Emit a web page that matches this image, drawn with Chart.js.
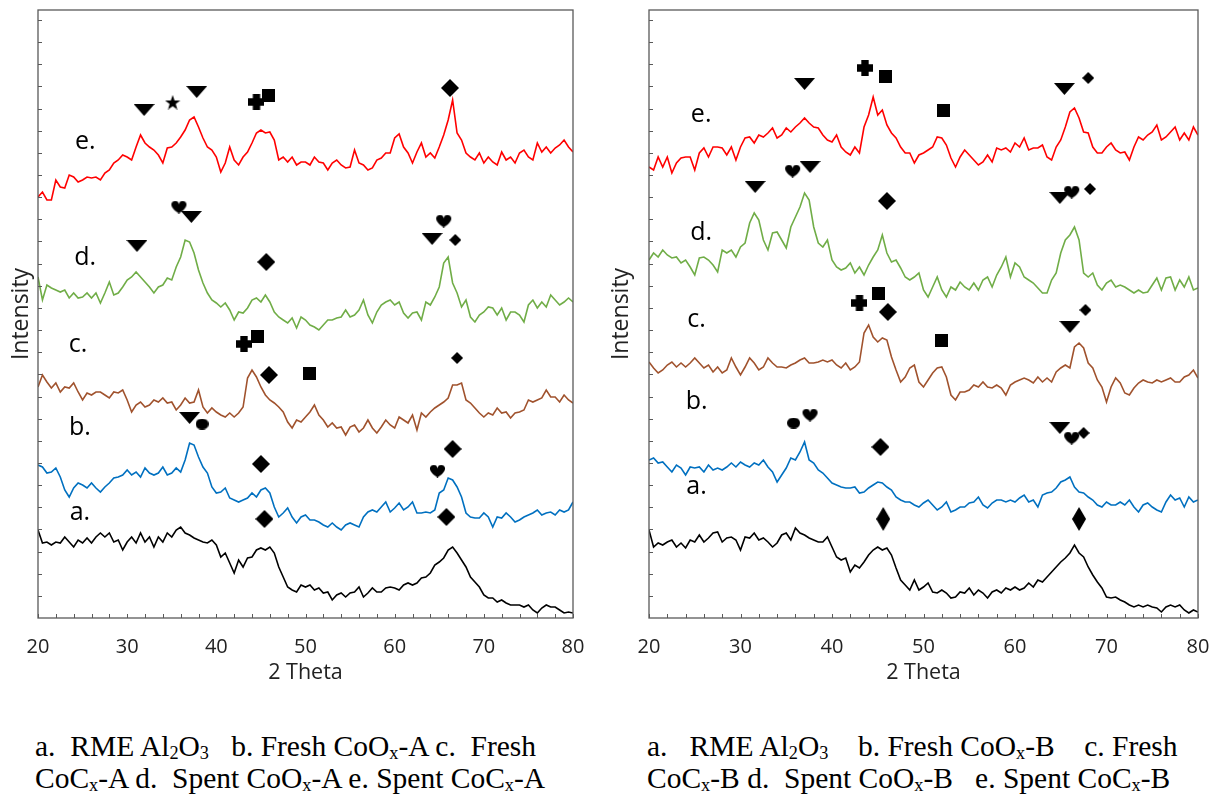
<!DOCTYPE html>
<html>
<head>
<meta charset="utf-8">
<script src="https://cdn.jsdelivr.net/npm/chart.js@4.4.1/dist/chart.umd.min.js"></script>
<style>
  body { margin: 0; background: #fff; width: 1212px; height: 794px; overflow: hidden; position: relative; }
  canvas { position: absolute; top: 0; }
  #c1 { left: 0; }
  #c2 { left: 600px; }
  .cap { position: absolute; font-family: "Liberation Serif", "Times New Roman", serif; font-size: 29.5px;
         line-height: 32px; white-space: pre; color: #000; }
  .cap sub { font-size: 0.62em; vertical-align: -0.18em; line-height: 0; }
</style>
</head>
<body>
<canvas id="c1" width="600" height="700"></canvas>
<canvas id="c2" width="612" height="700"></canvas>
<div class="cap" style="left:35px; top:730px;">a.  RME Al<sub>2</sub>O<sub>3</sub>   b. Fresh CoO<sub>x</sub>-A c.  Fresh
CoC<sub>x</sub>-A d.  Spent CoO<sub>x</sub>-A e. Spent CoC<sub>x</sub>-A</div>
<div class="cap" style="left:647px; top:730px;">a.   RME Al<sub>2</sub>O<sub>3</sub>    b. Fresh CoO<sub>x</sub>-B    c. Fresh
CoC<sub>x</sub>-B d.  Spent CoO<sub>x</sub>-B   e. Spent CoC<sub>x</sub>-B</div>
<script>
// 2 theta grid, 20..80 every 0.5 deg
const twoTheta = [];
for (let i = 0; i <= 120; i++) twoTheta.push(20 + i * 0.5);

// intensities (arb. units, stacked offsets as in the figure) -- left panel, series A
const leftE = [421,426,418,418,438,431,430,443,441,436, 438,441,440,441,438,445,448,455,458,463,
  461,458,471,483,475,471,468,463,455,470, 471,475,481,488,498,501,491,480,471,468,
  461,446,455,471,458,453,461,466,475,485, 488,485,486,478,458,461,456,461,453,456,
  456,453,461,456,455,448,455,458,453,450, 451,468,455,453,448,450,458,460,465,465,
  480,484,471,465,455,466,475,461,465,460, 471,483,498,518,485,478,465,461,458,465,
  455,461,456,453,466,458,461,455,465,468, 461,458,475,466,471,465,470,473,478,471, 466];
const leftD = [341,318,333,330,328,326,328,320,325,320, 321,325,320,325,315,325,336,323,325,331,
  338,341,346,341,336,331,325,331,333,340, 338,351,361,378,376,365,348,335,325,318,
  315,311,315,308,298,306,305,310,318,320, 316,323,316,306,301,298,295,300,290,301,
  298,293,291,288,293,298,298,300,301,308, 301,303,308,318,303,295,306,313,316,318,
  313,316,305,300,305,306,298,316,313,321, 331,355,361,335,325,311,318,301,296,303,
  306,311,310,303,310,298,306,306,303,296, 313,318,310,316,311,323,318,313,316,320, 316];
const leftC = [231,243,236,230,235,226,231,230,235,226, 218,225,223,226,226,223,220,226,225,228,
  218,206,213,216,211,213,218,216,220,215, 216,208,213,220,215,216,228,211,205,210,
  206,203,201,205,201,205,211,240,248,241, 231,223,218,215,211,206,196,190,198,196,
  201,206,213,203,198,191,195,190,191,183, 191,193,186,190,198,190,185,191,198,193,
  190,201,198,195,203,188,205,201,206,210, 213,216,220,233,233,235,218,215,210,205,
  201,205,203,210,205,206,200,205,206,208, 218,216,218,220,228,221,221,216,223,218, 215];
const leftB = [153,151,145,146,150,141,128,121,130,135, 133,130,135,130,126,131,135,140,141,143,
  148,143,146,141,150,145,143,145,151,143, 145,150,146,158,175,173,161,151,145,131,
  125,126,130,120,118,116,118,120,125,121, 128,130,125,111,101,105,110,101,95,101,
  103,98,98,96,93,91,95,91,88,93, 95,93,91,101,106,108,106,111,116,106,
  110,115,108,111,116,105,105,106,105,108, 125,128,140,138,131,121,105,101,100,100,
  105,101,91,101,100,105,101,96,98,101, 103,105,108,103,105,106,103,108,106,108, 116];
const leftA = [88,75,76,73,76,75,81,76,71,78, 75,80,75,81,85,81,85,76,78,68,
  76,81,75,85,76,81,71,81,76,85, 81,88,91,85,83,80,78,76,75,78,
  73,61,65,55,45,58,51,60,61,68, 70,68,71,65,51,41,31,28,26,33,
  31,33,28,30,25,26,18,23,25,21, 25,26,31,21,25,30,26,26,30,31,
  30,28,33,35,33,35,40,41,45,53, 56,60,68,71,65,58,51,41,36,31,
  23,20,20,16,18,15,13,13,13,11, 13,8,5,10,13,11,11,8,5,6, 5];

// right panel, series B
const rightE = [451,448,461,451,461,445,455,460,461,461, 448,465,470,461,471,471,470,463,471,458,
  471,480,481,475,483,481,485,490,480,483, 490,486,491,495,500,495,491,490,483,478,
  476,483,471,466,463,471,465,491,503,521, 503,508,493,485,480,471,465,465,455,463,
  465,468,471,481,480,473,460,451,461,468, 463,458,453,456,463,456,470,468,470,466,
  475,471,480,468,470,470,473,461,458,471, 478,491,506,510,500,486,485,471,465,465,
  471,475,468,465,466,458,471,481,478,483, 486,493,478,481,486,491,478,485,478,491, 483];
const rightD = [358,365,361,368,363,360,361,355,358,351, 343,360,361,358,353,346,368,365,368,361,
  371,375,395,405,398,378,368,385,386,378, 370,391,401,411,425,418,391,375,371,378,
  358,351,348,350,355,345,351,343,353,361, 368,383,365,356,358,350,341,338,341,345,
  328,321,331,341,328,321,331,328,336,331, 328,335,328,338,341,331,343,351,361,341,
  355,351,341,338,335,330,325,325,338,345, 365,378,383,391,378,345,341,345,333,328,
  335,338,331,333,331,328,325,328,325,326, 333,340,328,340,341,328,338,331,341,328, 330];
const rightC = [256,250,245,248,253,256,251,255,251,255, 260,255,250,253,246,251,245,248,260,251,
  243,251,260,255,248,251,260,255,251,251, 250,253,255,258,260,255,255,256,258,256,
  258,253,250,255,248,251,256,285,293,281, 276,280,278,261,248,236,241,250,253,236,
  231,238,245,250,251,241,223,218,226,226, 228,233,231,236,231,230,233,230,223,233,
  236,238,240,238,235,241,236,240,236,246, 250,253,250,271,275,270,255,250,238,231,
  216,231,240,235,225,223,230,235,238,236, 235,238,236,238,240,236,236,241,243,248, 240];
const rightB = [158,160,155,156,151,146,153,150,143,151, 150,151,146,153,148,150,148,151,155,151,
  156,153,151,155,153,158,151,146,136,143, 150,160,158,166,176,158,155,148,145,140,
  135,133,131,130,130,131,125,126,130,133, 136,135,131,128,121,118,116,116,113,111,
  115,118,113,108,111,116,106,108,111,111, 115,116,121,113,110,115,118,118,116,118,
  116,120,123,116,118,111,123,125,126,130, 136,138,141,131,126,125,121,118,113,111,
  116,113,113,116,113,118,111,106,113,115, 111,108,106,116,123,118,120,111,121,116, 118];
const rightA = [88,71,75,73,76,78,71,75,70,78, 76,83,76,80,85,86,76,80,81,78,
  68,81,80,85,78,80,76,71,75,83, 85,78,90,85,83,80,78,76,76,81,
  71,61,58,60,46,53,50,56,63,68, 71,68,70,63,50,38,33,28,38,28,
  31,35,26,25,28,25,20,21,26,25, 30,23,28,25,20,26,28,25,30,28,
  31,28,30,35,31,38,36,41,46,51, 56,60,65,73,65,61,51,43,36,30,
  21,20,21,18,16,13,11,13,11,13, 11,10,6,11,13,11,13,8,5,8, 6];

const seriesColors = ['#FF0000', '#70AD47', '#A0522D', '#0070C0', '#000000'];

// phase markers: symbol, 2 theta, height
const leftMarkType = ['tri','star','tri','plus','sq','dia',
  'heart','tri','tri','dia','heart','tri','diaS',
  'plus','sq','dia','sq','diaS',
  'tri','dot','dia','heart','dia',
  'dia','dia'];
const leftMarkX = [31.9,35.1,37.8,44.5,45.9,66.2, 35.8,37.2,31.1,45.6,65.5,64.2,66.8,
  43.1,44.6,45.9,50.5,67.0, 37.0,38.4,45.0,64.8,66.5, 45.4,65.8];
const leftMarkY = [508,516,526,516,523,530, 411,401,372,356,397,379,378,
  274,282,243,245,260, 200,194,154,147,169, 99,101];

const rightMarkType = ['tri','plus','sq','sq','tri','diaS',
  'tri','heart','tri','dia','tri','heart','diaS',
  'plus','sq','dia','sq','tri','diaS',
  'dot','heart','dia','tri','heart','diaS',
  'diaT','diaT'];
const rightMarkX = [37.0,43.6,45.8,52.2,65.4,68.0, 31.6,35.7,37.6,46.0,64.9,66.2,68.2,
  43.0,45.1,46.1,52.0,66.0,67.7, 35.8,37.6,45.3,64.9,66.2,67.5, 45.6,67.0];
const rightMarkY = [534,550,542,508,529,540, 431,447,451,417,420,426,429,
  315,325,306,278,291,308, 195,203,171,190,180,185, 99,99];

// curve labels
const curveLabels = ['e.', 'd.', 'c.', 'b.', 'a.'];
const leftLabelX = [25.3, 25.3, 24.5, 24.7, 24.7];
const leftLabelY = [476, 360, 273, 190, 105];
const rightLabelX = [25.7, 25.7, 25.2, 25.2, 25.2];
const rightLabelY = [503, 385, 298, 216, 131];

const yTickStep = 22.15;

Chart.defaults.font.family = '"Open Sans", sans-serif';
Chart.defaults.color = '#111';

function sym(kind) {
  const dims = { tri: [21, 12], star: [16, 15], plus: [16, 16], sq: [13, 13], dia: [18, 18],
    diaS: [12, 12], diaT: [14, 24], heart: [19, 13], dot: [13, 11] };
  const [w, h] = dims[kind];
  const cv = document.createElement('canvas');
  cv.width = w; cv.height = h;
  const c = cv.getContext('2d');
  c.fillStyle = '#000';
  c.beginPath();
  if (kind === 'tri') {
    c.moveTo(0, 0); c.lineTo(w, 0); c.lineTo(w / 2, h);
  } else if (kind === 'sq') {
    c.rect(0, 0, w, h);
  } else if (kind.startsWith('dia')) {
    c.moveTo(w / 2, 0); c.lineTo(w, h / 2); c.lineTo(w / 2, h); c.lineTo(0, h / 2);
  } else if (kind === 'plus') {
    c.rect(0, h * 0.27, w, h * 0.46);
    c.rect(w * 0.27, 0, w * 0.46, h);
  } else if (kind === 'dot') {
    c.ellipse(w / 2, h / 2, w / 2, h / 2, 0, 0, Math.PI * 2);
  } else if (kind === 'heart') {
    c.moveTo(w / 2, h);
    c.bezierCurveTo(w * 0.15, h * 0.7, -w * 0.05, h * 0.25, w * 0.24, h * 0.04);
    c.bezierCurveTo(w * 0.38, -h * 0.04, w * 0.48, h * 0.12, w / 2, h * 0.28);
    c.bezierCurveTo(w * 0.52, h * 0.12, w * 0.62, -h * 0.04, w * 0.76, h * 0.04);
    c.bezierCurveTo(w * 1.05, h * 0.25, w * 0.85, h * 0.7, w / 2, h);
  } else if (kind === 'star') {
    for (let i = 0; i < 10; i++) {
      const r = i % 2 ? w * 0.2 : w / 2;
      const a = -Math.PI / 2 + i * Math.PI / 5;
      const px = w / 2 + r * Math.cos(a), py = h / 2 + 1 + r * Math.sin(a);
      if (i) c.lineTo(px, py); else c.moveTo(px, py);
    }
  }
  c.closePath();
  c.fill();
  return cv;
}
const symCache = {};
const getSym = k => symCache[k] || (symCache[k] = sym(k));

const decor = {
  id: 'decor',
  afterDatasetsDraw(chart, args, o) {
    const { ctx, chartArea: a, scales: { x, y } } = chart;
    ctx.save();
    ctx.strokeStyle = '#595959';
    ctx.lineWidth = 1.3;
    ctx.strokeRect(a.left, a.top, a.right - a.left, a.bottom - a.top);
    ctx.beginPath();
    for (let v = 20; v <= 80; v += 2) {
      const px = Math.round(x.getPixelForValue(v)) + 0.5;
      ctx.moveTo(px, a.bottom); ctx.lineTo(px, a.bottom - 4);
    }
    for (let v = yTickStep; v < y.max; v += yTickStep) {
      const py = Math.round(y.getPixelForValue(v)) + 0.5;
      ctx.moveTo(a.left, py); ctx.lineTo(a.left + 4, py);
    }
    ctx.lineWidth = 1;
    ctx.stroke();
    ctx.font = '25px "Open Sans"';
    ctx.fillStyle = '#000';
    ctx.textAlign = 'center';
    ctx.textBaseline = 'middle';
    o.labels.forEach((t, i) => ctx.fillText(t, x.getPixelForValue(o.lx[i]), y.getPixelForValue(o.ly[i])));
    ctx.restore();
  }
};

function panel(id, traces, mType, mX, mY, lx, ly, axisW, padRight) {
  const lines = traces.map((d, i) => ({
    data: d, borderColor: seriesColors[i], borderWidth: 1.6,
    pointRadius: 0, tension: 0, order: 1
  }));
  const marks = {
    data: mX.map((v, i) => ({ x: v, y: mY[i] })),
    showLine: false, order: 0, clip: false,
    pointStyle: mType.map(getSym), pointRadius: 8
  };
  return new Chart(document.getElementById(id), {
    type: 'line',
    data: { labels: twoTheta, datasets: [marks, ...lines] },
    options: {
      responsive: false, animation: false, events: [],
      layout: { padding: { top: 10, right: padRight, bottom: 10, left: 0 } },
      plugins: { legend: { display: false }, tooltip: { enabled: false },
        decor: { labels: curveLabels, lx: lx, ly: ly } },
      scales: {
        x: {
          type: 'linear', min: 20, max: 80,
          grid: { display: false, drawTicks: false }, border: { display: false },
          ticks: { stepSize: 10, padding: 17, color: '#222', font: { size: 20 } },
          title: { display: true, text: '2 Theta', color: '#222', font: { size: 21.5 }, padding: { top: 0, bottom: 4 } },
          afterFit: s => { s.height = 72; s.paddingLeft = 0; s.paddingRight = 0; }
        },
        y: {
          min: 0, max: 608,
          grid: { display: false, drawTicks: false }, border: { display: false },
          ticks: { display: false },
          title: { display: true, text: 'Intensity', color: '#222', font: { size: 23 }, padding: { top: 8, bottom: 0 } },
          afterFit: s => { s.width = axisW; }
        }
      }
    },
    plugins: [decor]
  });
}

panel('c1', [leftE, leftD, leftC, leftB, leftA], leftMarkType, leftMarkX, leftMarkY, leftLabelX, leftLabelY, 38, 27);
panel('c2', [rightE, rightD, rightC, rightB, rightA], rightMarkType, rightMarkX, rightMarkY, rightLabelX, rightLabelY, 49, 14);
</script>
</body>
</html>
